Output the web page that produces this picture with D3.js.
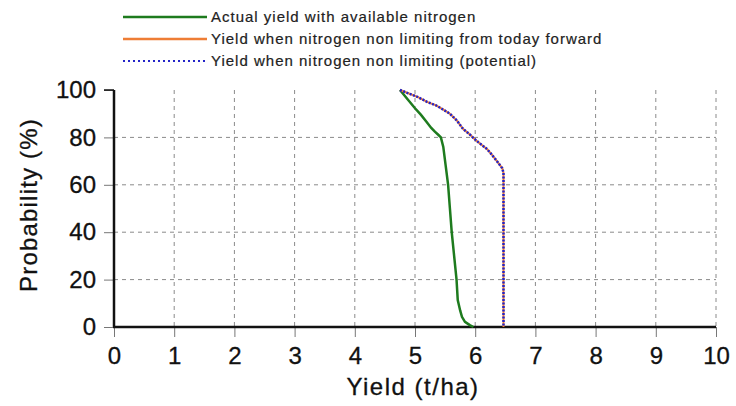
<!DOCTYPE html>
<html>
<head>
<meta charset="utf-8">
<script src="https://cdn.jsdelivr.net/npm/d3@7"></script>
<style>
  html, body { margin: 0; padding: 0; background: #fff; }
  svg { display: block; font-family: "Liberation Sans", Arial, sans-serif; }
</style>
</head>
<body>
<svg id="chart" width="736" height="406"></svg>
<script>
// ---- data ----
const xTicks = [0, 1, 2, 3, 4, 5, 6, 7, 8, 9, 10];
const yTicks = [0, 20, 40, 60, 80, 100];

const actualYield = [4.75, 4.88, 5.0, 5.1, 5.19, 5.27, 5.33, 5.39, 5.43, 5.47, 5.51, 5.55, 5.58, 5.61, 5.65, 5.69, 5.71, 5.75, 5.78, 5.83, 5.91, 5.97];
const actualProb  = [100, 96, 92.3, 89.5, 86.6, 84, 82.4, 81, 80, 76, 68, 60, 50, 40, 30, 20, 11.4, 7, 4.3, 2.2, 0.8, 0];

const todayYield = [4.75, 4.9, 5.05, 5.2, 5.35, 5.45, 5.58, 5.7, 5.8, 5.9, 5.98, 6.05, 6.11, 6.2, 6.28, 6.36, 6.45, 6.47, 6.47];
const todayProb  = [100, 98.5, 97, 95, 93.5, 92, 90, 87, 83.5, 81.5, 79.5, 78, 76.8, 75, 72.6, 70, 67, 65, 0];

const potentialYield = [4.75, 4.9, 5.05, 5.2, 5.35, 5.45, 5.58, 5.7, 5.8, 5.9, 5.98, 6.05, 6.11, 6.2, 6.28, 6.36, 6.45, 6.47, 6.47];
const potentialProb  = [100, 98.5, 97, 95, 93.5, 92, 90, 87, 83.5, 81.5, 79.5, 78, 76.8, 75, 72.6, 70, 67, 65, 0];

const legendLabels = [
  "Actual yield with available nitrogen",
  "Yield when nitrogen non limiting from today forward",
  "Yield when nitrogen non limiting (potential)"
];
const seriesColors = ["#1e7b1e", "#ee7d35", "#2424c8"];

// ---- layout ----
const svg = d3.select("#chart");
const x = d3.scaleLinear().domain([0, 10]).range([114, 716]);
const y = d3.scaleLinear().domain([0, 100]).range([327, 90]);

// grid
const grid = svg.append("g").attr("stroke", "#8a8a8a").attr("stroke-width", 1).attr("stroke-dasharray", "4,4");
grid.selectAll(".vg").data(xTicks.filter(d => d > 0)).enter().append("line")
  .attr("x1", d => x(d)).attr("x2", d => x(d)).attr("y1", y(100)).attr("y2", y(0));
grid.selectAll(".hg").data(yTicks.filter(d => d > 0 && d < 100)).enter().append("line")
  .attr("x1", x(0)).attr("x2", x(10)).attr("y1", d => y(d)).attr("y2", d => y(d));

// axes
const xAxis = d3.axisBottom(x).tickValues(xTicks).tickSize(10).tickPadding(10).tickFormat(d3.format("d"));
const yAxis = d3.axisLeft(y).tickValues(yTicks).tickSize(10).tickPadding(8).tickFormat(d3.format("d"));

const gx = svg.append("g").attr("transform", `translate(0,${y(0)})`).call(xAxis);
const gy = svg.append("g").attr("transform", `translate(${x(0)},0)`).call(yAxis);
[gx, gy].forEach(g => {
  g.select(".domain").remove();
  g.selectAll(".tick line").attr("stroke", "#777").attr("stroke-width", 1);
  g.selectAll(".tick text").attr("fill", "#111").attr("font-size", 24)
    .attr("stroke", "#111").attr("stroke-width", 0.3)
    .attr("font-family", "'Liberation Sans', Arial, sans-serif");
});

// axis lines
svg.append("line").attr("x1", x(0)).attr("x2", x(0)).attr("y1", y(100)).attr("y2", y(0))
  .attr("stroke", "#111").attr("stroke-width", 2.5);
svg.append("line").attr("x1", x(0) - 1).attr("x2", x(10)).attr("y1", y(0)).attr("y2", y(0))
  .attr("stroke", "#111").attr("stroke-width", 2.5);
svg.append("line").attr("x1", x(0) - 10).attr("x2", x(0)).attr("y1", y(100)).attr("y2", y(100))
  .attr("stroke", "#111").attr("stroke-width", 1.5);

// axis titles
svg.append("text").attr("x", 413).attr("y", 395)
  .attr("text-anchor", "middle").attr("font-size", 24).attr("fill", "#111")
  .attr("stroke", "#111").attr("stroke-width", 0.3)
  .attr("letter-spacing", 1.5).text("Yield (t/ha)");
svg.append("text").attr("transform", `translate(37,205) rotate(-90)`)
  .attr("text-anchor", "middle").attr("font-size", 24).attr("fill", "#111")
  .attr("stroke", "#111").attr("stroke-width", 0.3)
  .attr("letter-spacing", 1.2).text("Probability (%)");

// series
const line = d3.line().x(d => x(d[0])).y(d => y(d[1]));
const zip = (a, b) => a.map((v, i) => [v, b[i]]);

svg.append("path").datum(zip(actualYield, actualProb)).attr("d", line)
  .attr("fill", "none").attr("stroke", seriesColors[0]).attr("stroke-width", 2.5);
svg.append("path").datum(zip(todayYield, todayProb)).attr("d", line)
  .attr("fill", "none").attr("stroke", seriesColors[1]).attr("stroke-width", 2);
svg.append("path").datum(zip(potentialYield, potentialProb)).attr("d", line)
  .attr("fill", "none").attr("stroke", seriesColors[2]).attr("stroke-width", 2.5)
  .attr("stroke-dasharray", "2,1.5");

// legend
const lg = svg.append("g");
legendLabels.forEach((lab, i) => {
  const yy = 17 + i * 22;
  lg.append("line").attr("x1", 123).attr("x2", 207).attr("y1", yy).attr("y2", yy)
    .attr("stroke", seriesColors[i]).attr("stroke-width", i === 2 ? 2 : 2.5)
    .attr("stroke-dasharray", i === 2 ? "2,3" : null);
  lg.append("text").attr("x", 211).attr("y", yy).attr("dy", "0.35em")
    .attr("font-size", 15).attr("fill", "#222").attr("stroke", "#222").attr("stroke-width", 0.2)
    .attr("letter-spacing", 1.0).text(lab);
});
</script>
</body>
</html>
